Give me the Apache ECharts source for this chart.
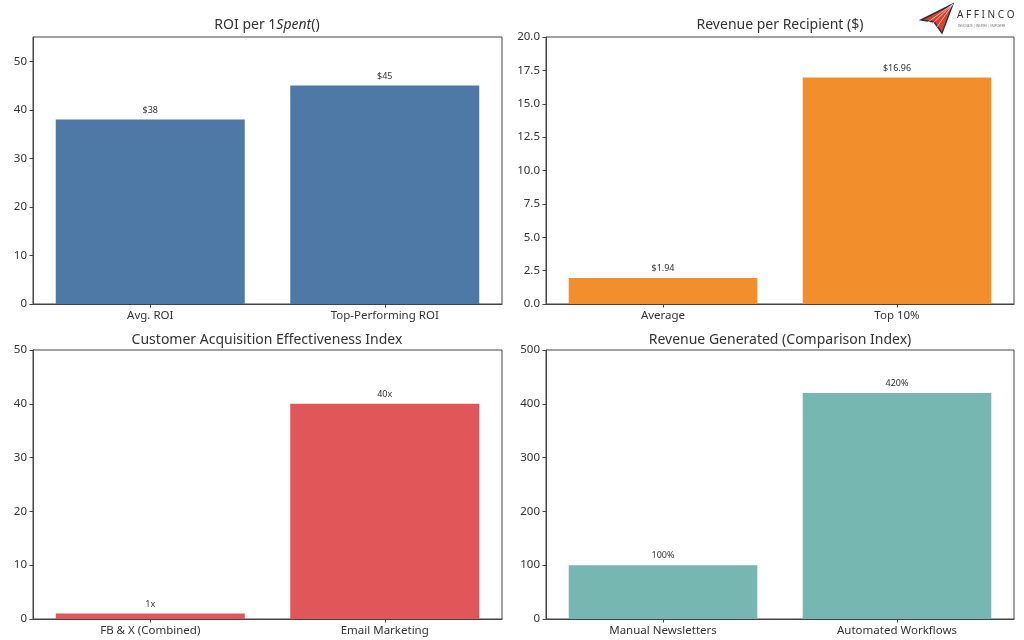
<!DOCTYPE html>
<html><head><meta charset="utf-8">
<script src="https://cdn.jsdelivr.net/npm/echarts@6/dist/echarts.min.js"></script>
<style>html,body{margin:0;padding:0;background:#fff}#c{width:1024px;height:640px}</style>
</head><body><div id="c"></div>
<script>
const roiCats = ['Avg. ROI', 'Top-Performing ROI'];
const roiVals = [38, 45];
const roiLabels = ['$38', '$45'];
const roiTicks = [0, 10, 20, 30, 40, 50];
const roiMax = 55;

const revCats = ['Average', 'Top 10%'];
const revVals = [1.94, 16.96];
const revLabels = ['$1.94', '$16.96'];
const revTicks = [0, 2.5, 5, 7.5, 10, 12.5, 15, 17.5, 20];
const revMax = 20;

const acqCats = ['FB & X (Combined)', 'Email Marketing'];
const acqVals = [1, 40];
const acqLabels = ['1x', '40x'];
const acqTicks = [0, 10, 20, 30, 40, 50];
const acqMax = 50;

const genCats = ['Manual Newsletters', 'Automated Workflows'];
const genVals = [100, 420];
const genLabels = ['100%', '420%'];
const genTicks = [0, 100, 200, 300, 400, 500];
const genMax = 500;

const FONT = 'Noto Sans';
const TXT = '#333';
const panels = [
  {cats: roiCats, vals: roiVals, labels: roiLabels, ticks: roiTicks, max: roiMax, color: '#4e79a7', dec: 0,
   grid: {left: 33, right: 522, top: 37, bottom: 336}},
  {cats: revCats, vals: revVals, labels: revLabels, ticks: revTicks, max: revMax, color: '#f28e2b', dec: 1,
   grid: {left: 546, right: 10, top: 37, bottom: 336}},
  {cats: acqCats, vals: acqVals, labels: acqLabels, ticks: acqTicks, max: acqMax, color: '#e15759', dec: 0,
   grid: {left: 33, right: 522, top: 350, bottom: 21}},
  {cats: genCats, vals: genVals, labels: genLabels, ticks: genTicks, max: genMax, color: '#76b7b2', dec: 0,
   grid: {left: 546, right: 10, top: 350, bottom: 21}}
];

const grids = [], xAxes = [], yAxes = [], series = [];
panels.forEach((p, i) => {
  grids.push(Object.assign({show: true, borderColor: '#444', borderWidth: 1, backgroundColor: 'transparent'}, p.grid));
  xAxes.push({
    type: 'category', gridIndex: i, data: p.cats,
    axisLine: {show: true, lineStyle: {color: '#444', width: 1}},
    axisTick: {show: true, alignWithLabel: true, length: 3.5, lineStyle: {color: '#444'}},
    axisLabel: {color: TXT, fontFamily: FONT, fontSize: 11.5, margin: 6}
  });
  yAxes.push({
    type: 'value', gridIndex: i, min: 0, max: p.max,
    splitLine: {show: false},
    axisLine: {show: true, lineStyle: {color: '#444', width: 1}},
    axisTick: {show: true, length: 3.5, lineStyle: {color: '#444'}, customValues: p.ticks},
    axisLabel: {color: TXT, fontFamily: FONT, fontSize: 11.5, margin: 6, customValues: p.ticks,
      formatter: v => Number(v).toFixed(p.dec)}
  });
  series.push({
    type: 'bar', xAxisIndex: i, yAxisIndex: i, data: p.vals, barWidth: '80.6%',
    itemStyle: {color: p.color},
    label: {show: true, position: 'top', distance: 5, color: TXT, fontFamily: FONT, fontSize: 9,
      formatter: prm => p.labels[prm.dataIndex]}
  });
});

const titleStyle = (txt, x, y, rich) => ({
  type: 'text', x: x, y: y,
  style: {text: txt, align: 'center', verticalAlign: 'middle', fill: TXT,
    font: '14px "' + FONT + '"', rich: rich || {}}
});

const graphic = [
  titleStyle('ROI per 1{it|Spent}()', 267, 25, {it: {fontStyle: 'italic', fontSize: 14, fontFamily: FONT, fill: TXT}}),
  titleStyle('Revenue per Recipient ($)', 780, 25),
  titleStyle('Customer Acquisition Effectiveness Index', 267, 340),
  titleStyle('Revenue Generated (Comparison Index)', 780, 340),
  // logo plane
  {type: 'polygon', shape: {points: [[953, 4], [921, 20], [934, 22], [942, 33]]},
   style: {fill: '#d8432f', stroke: '#2e2e3e', lineWidth: 1.4}},
  {type: 'polyline', shape: {points: [[953, 4], [932, 24]]}, style: {stroke: '#f6d0c8', lineWidth: 0.8}},
  {type: 'polyline', shape: {points: [[953, 4], [937, 27]]}, style: {stroke: '#f6d0c8', lineWidth: 0.8}},
  {type: 'polyline', shape: {points: [[953, 4], [928, 22]]}, style: {stroke: '#f6d0c8', lineWidth: 0.8}},
  {type: 'text', x: 957, y: 15, style: {text: 'A F F I N C O', fill: '#333', font: '10px "' + FONT + '"', verticalAlign: 'middle'}},
  {type: 'text', x: 958, y: 26, style: {text: 'INNOVATE | INSPIRE | EMPOWER', fill: '#777', font: '3px "' + FONT + '"', verticalAlign: 'middle'}}
];

const chart = echarts.init(document.getElementById('c'), null, {renderer: 'canvas'});
chart.setOption({
  animation: false, backgroundColor: '#fff',
  grid: grids, xAxis: xAxes, yAxis: yAxes, series: series, graphic: graphic
});
</script></body></html>
